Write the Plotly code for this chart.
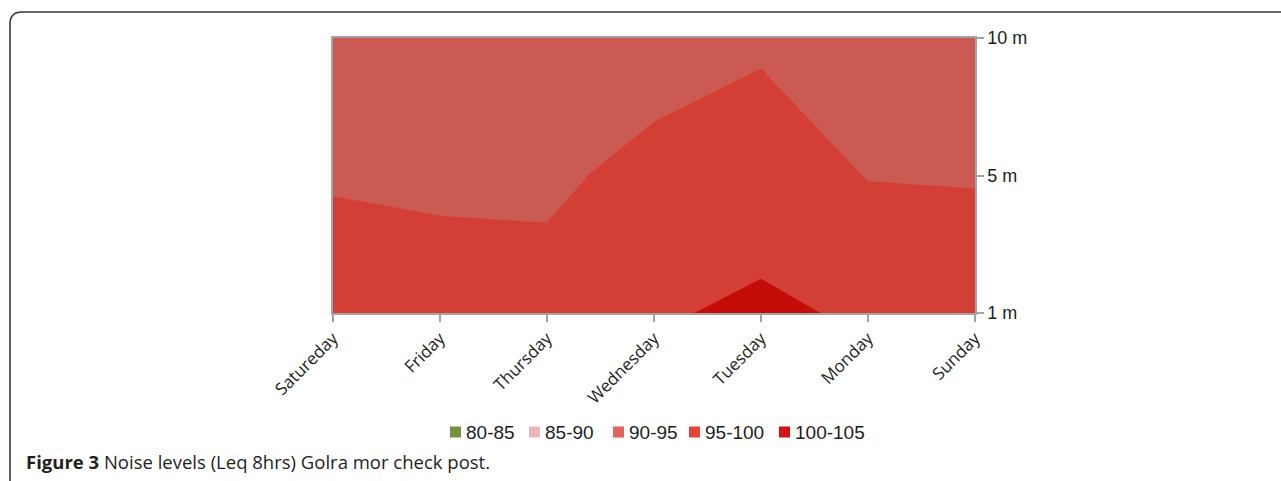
import plotly.graph_objects as go

# Measurement grid: days along x, microphone heights along y
days = ["Satureday", "Friday", "Thursday", "Wednesday", "Tuesday", "Monday", "Sunday"]
heights = ["1 m", "5 m", "10 m"]

# Leq (8 hrs) in dB(A) at each height
leq_1m = [97.8, 97.9, 96.9, 99.7, 100.5, 99.6, 97.9]
leq_5m = [94.5, 93.8, 94.0, 96.6, 98.5, 94.8, 94.7]
leq_10m = [92.0, 93.0, 93.5, 92.5, 94.0, 91.0, 92.0]

# Contour bands
band_labels = ["80-85", "85-90", "90-95", "95-100", "100-105"]
band_fill = ["#7a9540", "#d9a9a6", "#cb5a52", "#d43f35", "#c40d09"]
band_legend = ["#76923c", "#e8b7b7", "#df665e", "#e5443a", "#d51010"]
band_start, band_size = 80, 5

W, H = 1281, 481
PL, PR, PT, PB = 333, 975, 38, 313  # plot area in pixels


def px(x):
    return (x - PL) / (PR - PL)


def py(y):
    return (PB - y) / (PB - PT)


z = [leq_1m, leq_5m, leq_10m]
n = len(band_labels)
zmin = band_start
zmax = band_start + band_size * n
colorscale = []
for i, c in enumerate(band_fill):
    colorscale.append([i / n, c])
    colorscale.append([(i + 1) / n, c])

fig = go.Figure()
fig.add_trace(go.Contour(
    x=list(range(len(days))),
    y=list(range(len(heights))),
    z=z,
    zmin=zmin, zmax=zmax,
    colorscale=colorscale,
    showscale=False,
    contours=dict(start=band_start, end=zmax, size=band_size,
                  coloring="fill", showlines=False),
    line=dict(width=0, smoothing=0),
    hoverinfo="skip",
))

axis_grey = "#a3a3a3"
fig.update_xaxes(
    range=[0, len(days) - 1],
    tickvals=list(range(len(days))), ticktext=days,
    tickangle=-45,
    tickfont=dict(family="Open Sans", size=17, color="#1e1e1e"),
    showline=True, linecolor=axis_grey, linewidth=1.5, mirror=True,
    ticks="outside", ticklen=7, tickcolor=axis_grey, tickwidth=1.5,
    showgrid=False, zeroline=False,
)
fig.update_yaxes(
    range=[0, len(heights) - 1],
    tickvals=list(range(len(heights))), ticktext=heights,
    side="right",
    tickfont=dict(family="Liberation Sans", size=18, color="#1e1e1e"),
    showline=True, linecolor=axis_grey, linewidth=1.5, mirror=True,
    ticks="outside", ticklen=7, tickcolor=axis_grey, tickwidth=1.5,
    showgrid=False, zeroline=False,
)

shapes = []
annotations = []

# Legend row for the contour bands
legend_x = [450, 529, 613, 689, 779]
legend_y = 432
for lx, lab, col in zip(legend_x, band_labels, band_legend):
    shapes.append(dict(type="rect", xref="paper", yref="paper",
                       x0=px(lx), x1=px(lx + 11), y0=py(legend_y + 5.5), y1=py(legend_y - 5.5),
                       fillcolor=col, line=dict(width=0)))
    annotations.append(dict(xref="paper", yref="paper", x=px(lx + 14), y=py(legend_y),
                            xanchor="left", yanchor="middle", showarrow=False,
                            text=lab, font=dict(family="Liberation Sans", size=19, color="#1e1e1e")))

# Figure frame with rounded top-left corner
frame = (f"M {px(10)},{py(490)} L {px(10)},{py(24)} "
         f"Q {px(10)},{py(12)} {px(22)},{py(12)} L {px(1290)},{py(12)}")
shapes.append(dict(type="path", xref="paper", yref="paper", path=frame,
                   line=dict(color="#3a3a3a", width=1.6)))

# Caption
annotations.append(dict(xref="paper", yref="paper", x=px(24), y=py(461),
                        xanchor="left", yanchor="middle", showarrow=False,
                        text="<b>Figure 3</b> Noise levels (Leq 8hrs) Golra mor check post.",
                        font=dict(family="Open Sans", size=18.5, color="#231f20")))

fig.update_layout(
    width=W, height=H,
    margin=dict(l=PL, r=W - PR, t=PT, b=H - PB, pad=0),
    paper_bgcolor="white", plot_bgcolor="white",
    showlegend=False,
    shapes=shapes, annotations=annotations,
)

fig.write_html("out.html")
